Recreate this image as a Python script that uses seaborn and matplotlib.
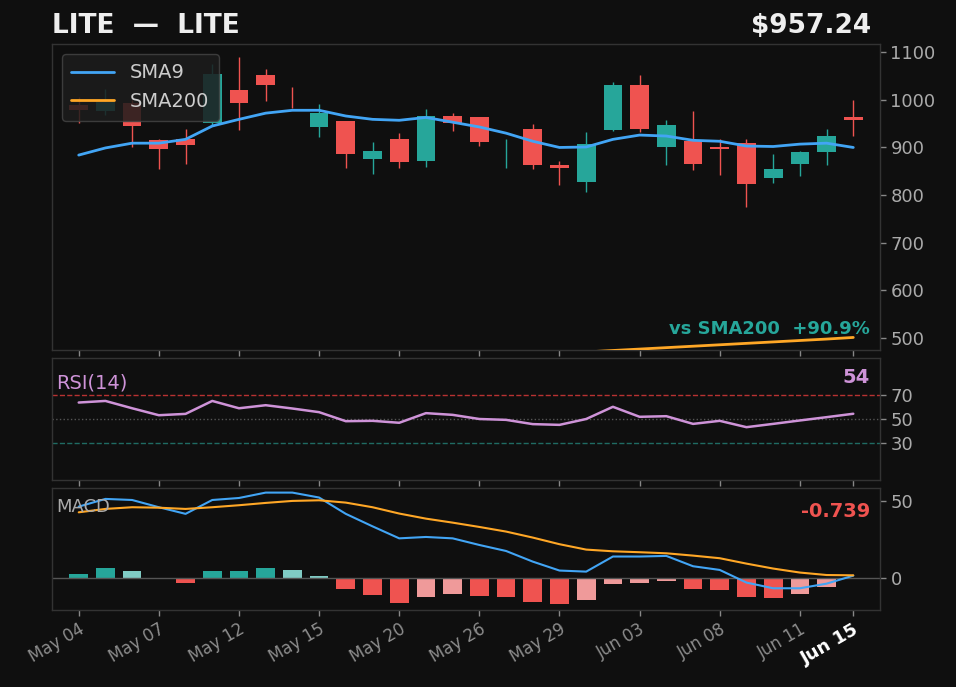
import numpy as np
import pandas as pd
import seaborn as sns
import matplotlib.pyplot as plt

# trading days shown on the chart
dates = ['May 04', 'May 05', 'May 06', 'May 07', 'May 08', 'May 11', 'May 12', 'May 13',
         'May 14', 'May 15', 'May 18', 'May 19', 'May 20', 'May 21', 'May 22', 'May 26',
         'May 27', 'May 28', 'May 29', 'Jun 01', 'Jun 02', 'Jun 03', 'Jun 04', 'Jun 05',
         'Jun 08', 'Jun 09', 'Jun 10', 'Jun 11', 'Jun 12', 'Jun 15']

opens = [989, 976, 993, 915, 917, 951, 1020, 1052, 1000.3, 943,
         955, 876, 917, 871, 966, 964, 905, 938, 863, 827,
         936, 1031, 901, 913, 900, 909, 836, 865, 890, 963]
closes = [978, 995, 945, 897, 905, 1054, 993, 1031, 1000, 972,
          886, 892, 869, 966, 951, 911, 905, 863, 857, 907,
          1031, 938, 947, 865, 897, 823, 855, 890, 924, 957.24]
highs = [1005, 1022, 1000, 917, 938, 1075, 1089, 1064, 1027, 991,
         955, 911, 930, 980, 972, 964, 917, 949, 871, 932,
         1037, 1052, 957, 976, 917, 917, 886, 892, 938, 999]
lows = [951, 968, 901, 855, 865, 947, 936, 997, 983, 922,
        857, 844, 857, 859, 934, 903, 857, 855, 821, 806,
        934, 932, 863, 852, 842, 775, 825, 840, 863, 924]

sma9 = [884, 899, 909, 909, 917, 945, 959, 972, 978, 978,
        966, 959, 957, 963, 953, 943, 930, 913, 900, 901,
        917, 926, 924, 915, 913, 903, 902, 907, 909, 900]
sma200 = [413, 416, 420, 423, 425, 429, 433, 436, 438, 441,
          444, 447, 449, 452, 455, 458, 461, 464, 467, 471,
          474, 477, 480, 483, 486, 489, 492, 495, 498, 501.4]

rsi = [63.5, 64.8, 58.8, 53.1, 54.2, 64.8, 58.8, 61.3, 58.6, 55.6,
       48.2, 48.5, 46.9, 54.8, 53.4, 50.0, 49.3, 45.8, 45.2, 50.0,
       60.0, 51.8, 52.3, 46.0, 48.5, 43.3, 46.0, 48.8, 51.5, 54.3]

macd = [46.3, 51.3, 50.6, 45.9, 41.6, 50.6, 51.9, 55.4, 55.4, 52.2,
        41.6, 33.5, 25.7, 26.6, 25.7, 21.4, 17.5, 10.6, 4.8, 4.1,
        13.9, 13.9, 14.3, 7.6, 5.2, -3.0, -6.7, -6.7, -3.7, 1.5]
signal = [42.6, 44.8, 45.9, 45.6, 44.8, 45.9, 47.2, 48.7, 50.0, 50.4,
          48.9, 45.9, 41.8, 38.5, 35.9, 33.1, 30.1, 26.2, 21.9, 18.4,
          17.3, 16.7, 16.0, 14.5, 12.8, 9.3, 6.1, 3.5, 1.9, 1.7]
hist = [2.8, 6.7, 4.8, 0.0, -3.0, 4.8, 4.8, 6.7, 5.4, 1.5,
        -6.9, -11.3, -16.0, -12.1, -10.2, -11.5, -12.1, -15.4, -16.7, -14.1,
        -3.7, -3.0, -1.7, -6.9, -7.6, -12.1, -12.8, -10.2, -5.6, -0.739]

BG = '#0f0f0f'
UP = '#26a69a'
DOWN = '#ef5350'
UP_LIGHT = '#80cbc4'
DOWN_LIGHT = '#ef9a9a'
BLUE = '#42a5f5'
ORANGE = '#ffa726'
VIOLET = '#ce93d8'
GRID = '#333333'
TXT = '#aaaaaa'

sns.set_style('dark', {'axes.facecolor': BG, 'figure.facecolor': BG,
                       'axes.edgecolor': GRID, 'xtick.color': TXT, 'ytick.color': TXT,
                       'text.color': '#eeeeee', 'xtick.bottom': True, 'ytick.right': True})
plt.rcParams['font.family'] = ['DejaVu Sans']

df = pd.DataFrame({'x': np.arange(len(dates)), 'open': opens, 'close': closes,
                   'high': highs, 'low': lows, 'sma9': sma9, 'sma200': sma200,
                   'rsi': rsi, 'macd': macd, 'signal': signal, 'hist': hist})

fig = plt.figure(figsize=(9.56, 6.87), dpi=100)
ax = fig.add_axes([0.0544, 0.4905, 0.8661, 0.4454])
ax_rsi = fig.add_axes([0.0544, 0.3013, 0.8661, 0.1776])
ax_macd = fig.add_axes([0.0544, 0.1121, 0.8661, 0.1776])

# candles
up = df['close'] >= df['open']
cols = np.where(up, UP, DOWN)
ax.vlines(df['x'], df['low'], df['high'], colors=cols, linewidth=1, zorder=2)
ax.bar(df['x'], (df['close'] - df['open']).abs(), bottom=df[['open', 'close']].min(axis=1),
       width=0.7, color=cols, linewidth=0, zorder=3)

sns.lineplot(data=df, x='x', y='sma9', ax=ax, color=BLUE, linewidth=2, label='SMA9', zorder=4)
sns.lineplot(data=df, x='x', y='sma200', ax=ax, color=ORANGE, linewidth=2, label='SMA200', zorder=4)

ax.set_ylim(475, 1117)
ax.set_yticks([500, 600, 700, 800, 900, 1000, 1100])
leg = ax.legend(loc='upper left', fontsize=14, facecolor='#1c1c1c', edgecolor='#444444',
                framealpha=0.85, labelcolor='#cccccc', borderpad=0.5, handlelength=2.2)
ax.text(0.988, 0.04, 'vs SMA200  +90.9%', transform=ax.transAxes, ha='right', va='bottom',
        color=UP, fontsize=13, fontweight='bold')

# RSI
ax_rsi.axhline(70, color='#b83232', linestyle='--', linewidth=1)
ax_rsi.axhline(50, color='#555555', linestyle=':', linewidth=1)
ax_rsi.axhline(30, color='#1f6b63', linestyle='--', linewidth=1)
sns.lineplot(data=df, x='x', y='rsi', ax=ax_rsi, color=VIOLET, linewidth=1.8)
ax_rsi.set_ylim(0, 100)
ax_rsi.set_yticks([30, 50, 70])
ax_rsi.text(0.005, 0.72, 'RSI(14)', transform=ax_rsi.transAxes, ha='left', va='bottom',
            color=VIOLET, fontsize=14)
ax_rsi.text(0.988, 0.76, '54', transform=ax_rsi.transAxes, ha='right', va='bottom',
            color=VIOLET, fontsize=14, fontweight='bold')

# MACD
prev = np.r_[0.0, df['hist'].values[:-1]]
hcols = []
for h, p in zip(df['hist'], prev):
    if h >= 0:
        hcols.append(UP if h >= p else UP_LIGHT)
    else:
        hcols.append(DOWN if h < p else DOWN_LIGHT)
ax_macd.bar(df['x'], df['hist'], width=0.7, color=hcols, linewidth=0)
ax_macd.axhline(0, color='#555555', linewidth=1)
sns.lineplot(data=df, x='x', y='macd', ax=ax_macd, color=BLUE, linewidth=1.5)
sns.lineplot(data=df, x='x', y='signal', ax=ax_macd, color=ORANGE, linewidth=1.5)
ax_macd.set_ylim(-20.8, 58.4)
ax_macd.set_yticks([0, 50])
ax_macd.text(0.005, 0.77, 'MACD', transform=ax_macd.transAxes, ha='left', va='bottom',
             color=TXT, fontsize=13)
ax_macd.text(0.988, 0.73, '-0.739', transform=ax_macd.transAxes, ha='right', va='bottom',
             color=DOWN, fontsize=14, fontweight='bold')

tick_pos = list(range(0, len(dates), 3)) + [len(dates) - 1]
for a in (ax, ax_rsi, ax_macd):
    a.set_xlim(-1, 30)
    a.set_xticks(tick_pos)
    a.yaxis.tick_right()
    a.set_xlabel('')
    a.set_ylabel('')
    a.tick_params(axis='both', length=4, width=1, color='#888888', labelsize=13, direction='out')
    for s in a.spines.values():
        s.set_color(GRID)
        s.set_linewidth(1)
    a.grid(False)
    if a is not ax_macd:
        a.tick_params(axis='x', labelbottom=False)

ax_macd.set_xticklabels([dates[i] for i in tick_pos], rotation=30, ha='right', fontsize=12,
                        rotation_mode='anchor', color='#8c8c8c')
last = ax_macd.get_xticklabels()[-1]
last.set_fontweight('bold')
last.set_color('#ffffff')
last.set_fontsize(13)

fig.text(0.0544, 0.962, 'LITE  —  LITE', ha='left', va='center', fontsize=19,
         fontweight='bold', color='#eeeeee')
fig.text(0.911, 0.962, '$957.24', ha='right', va='center', fontsize=19,
         fontweight='bold', color='#eeeeee')

fig.savefig('out.png', dpi=100, facecolor=BG)
